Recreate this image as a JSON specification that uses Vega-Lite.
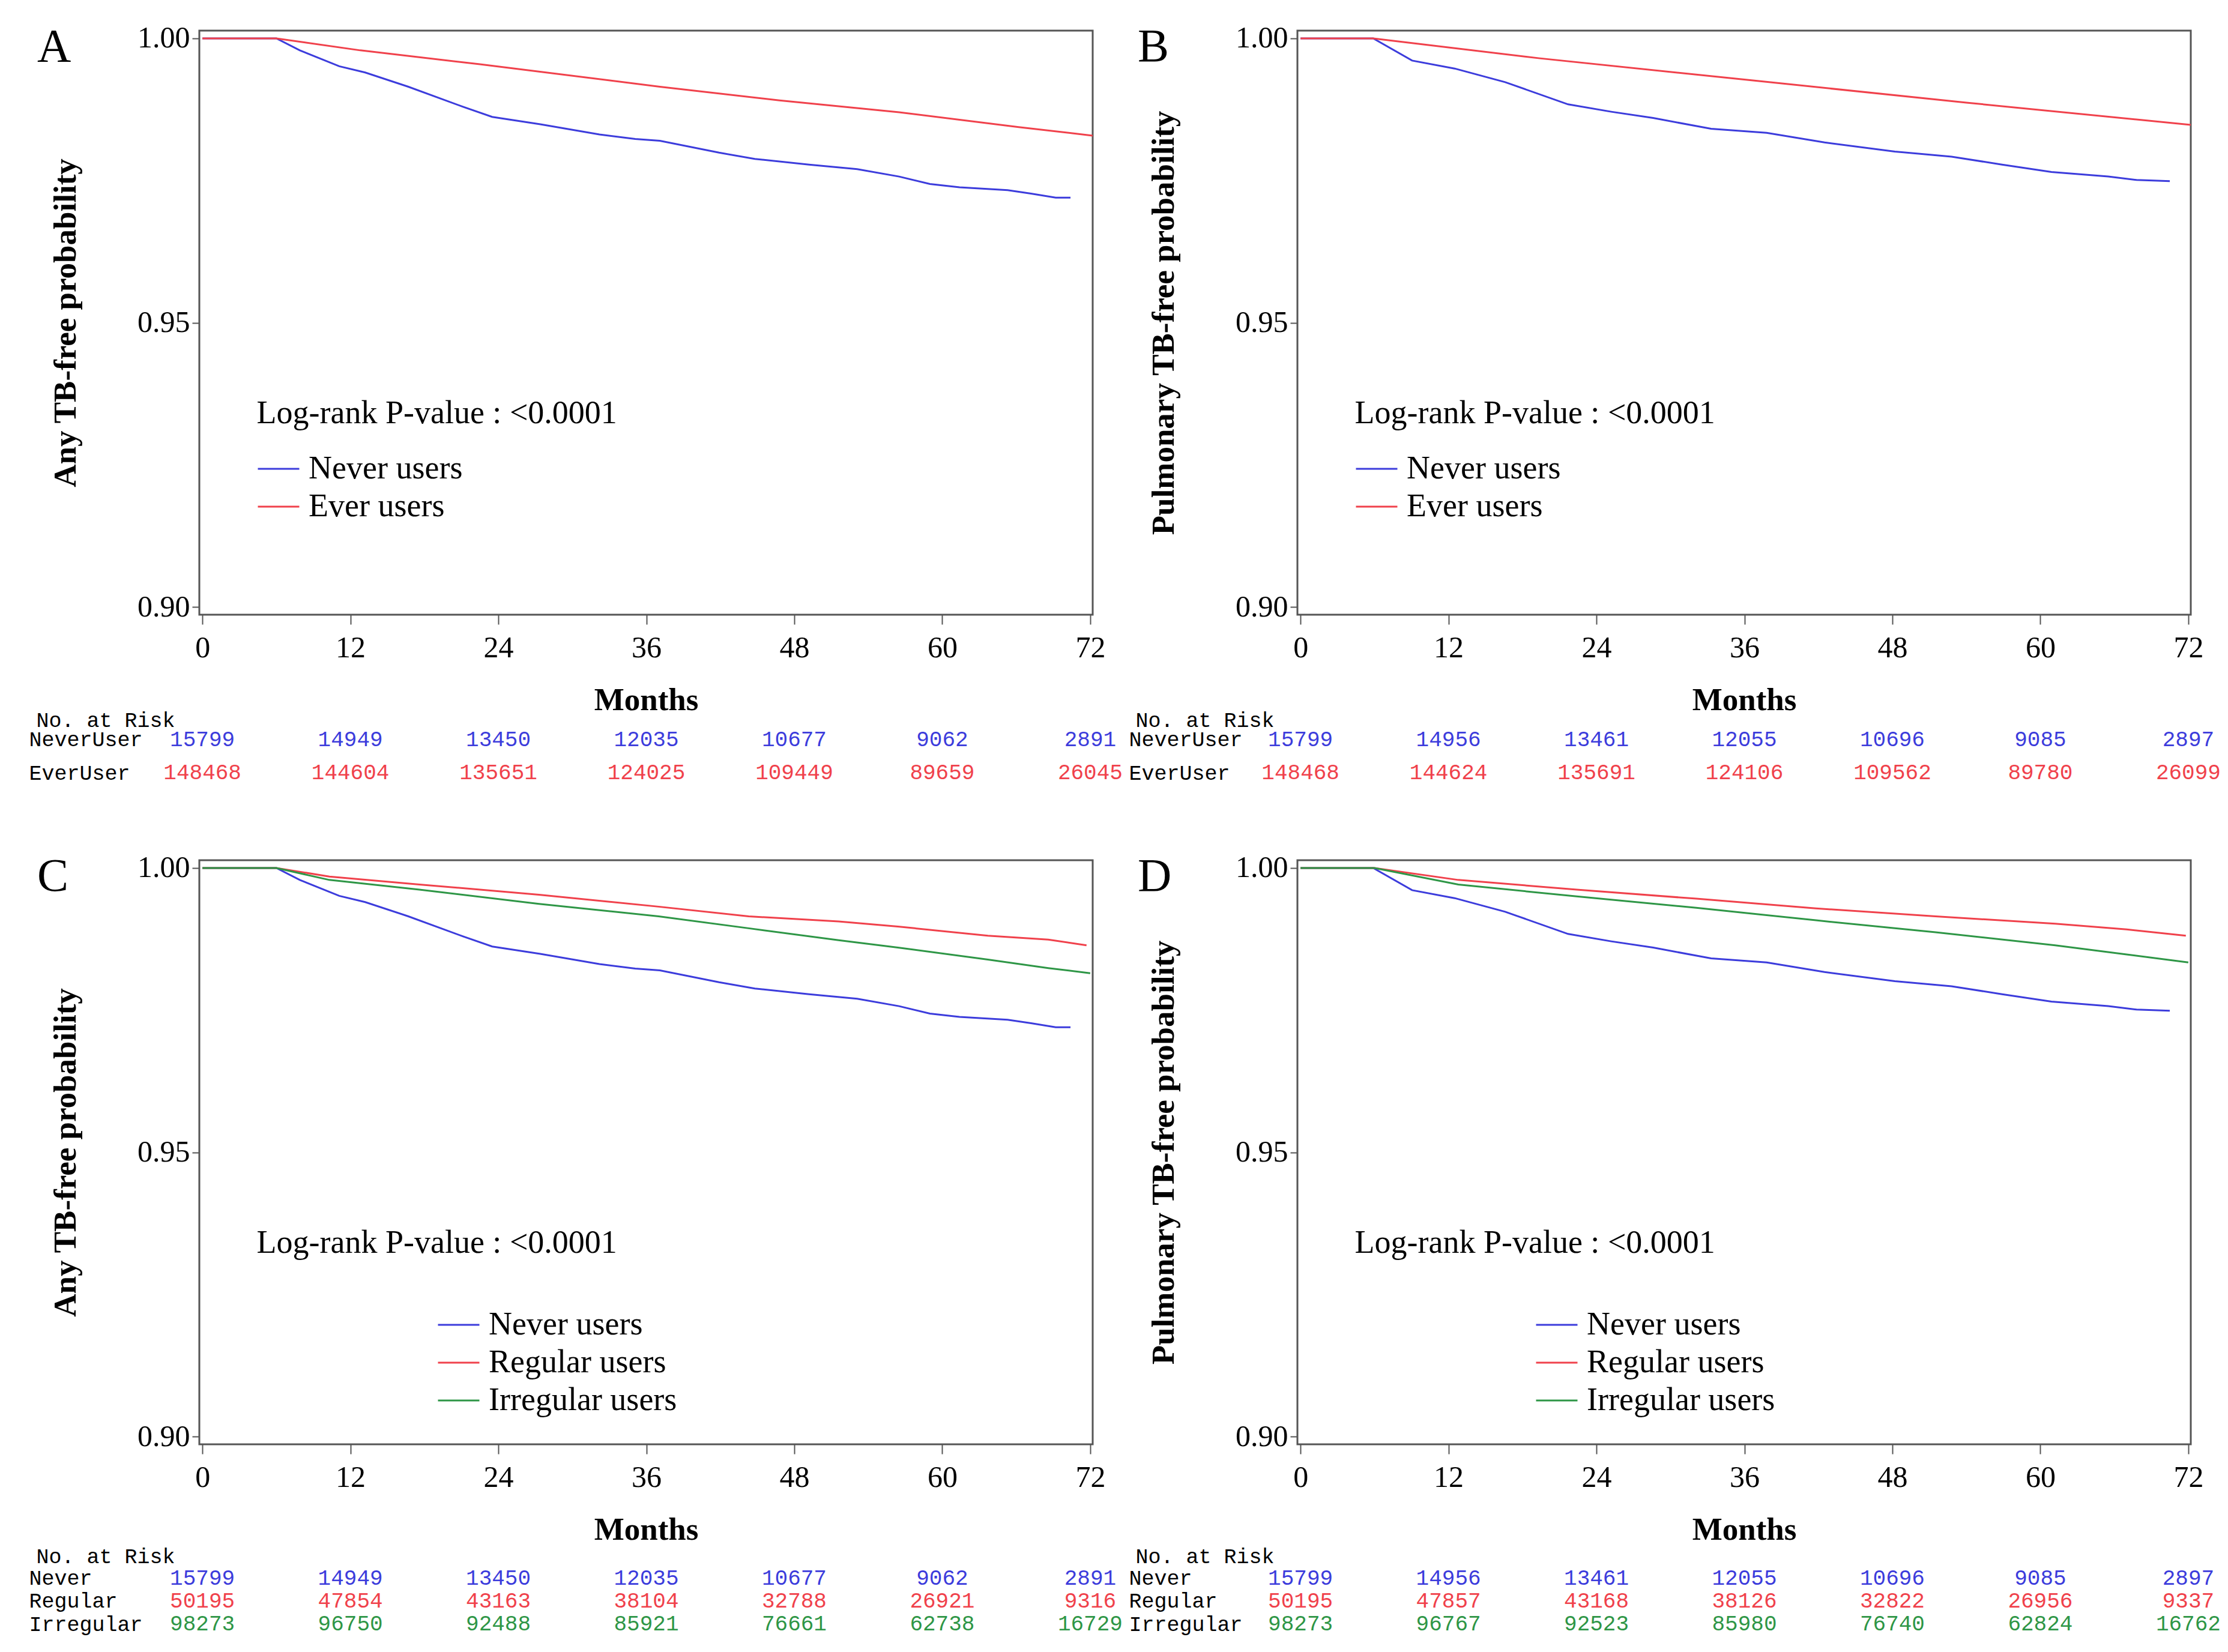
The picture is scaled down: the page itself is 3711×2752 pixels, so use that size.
{
  "$schema": "https://vega.github.io/schema/vega-lite/v6.json",
  "padding": {"left": 48, "top": 37, "right": 5, "bottom": 5},
  "background": "white",
  "datasets": {
    "km": [
      {"p":"A","g":"Never users","m":0,"s":1},{"p":"A","g":"Never users","m":6,"s":1},{"p":"A","g":"Never users","m":7.9,"s":0.9979},{"p":"A","g":"Never users","m":11.1,"s":0.9951},{"p":"A","g":"Never users","m":13.2,"s":0.994},{"p":"A","g":"Never users","m":16.7,"s":0.9915},{"p":"A","g":"Never users","m":21.1,"s":0.988},{"p":"A","g":"Never users","m":23.5,"s":0.9862},{"p":"A","g":"Never users","m":27.4,"s":0.9849},{"p":"A","g":"Never users","m":32.2,"s":0.9831},{"p":"A","g":"Never users","m":35.1,"s":0.9823},{"p":"A","g":"Never users","m":37.1,"s":0.982},{"p":"A","g":"Never users","m":41.9,"s":0.9799},{"p":"A","g":"Never users","m":44.8,"s":0.9788},{"p":"A","g":"Never users","m":49.2,"s":0.9778},{"p":"A","g":"Never users","m":53.1,"s":0.977},{"p":"A","g":"Never users","m":56.5,"s":0.9757},{"p":"A","g":"Never users","m":59,"s":0.9744},{"p":"A","g":"Never users","m":61.4,"s":0.9738},{"p":"A","g":"Never users","m":65.3,"s":0.9733},{"p":"A","g":"Never users","m":67.2,"s":0.9727},{"p":"A","g":"Never users","m":69.2,"s":0.972},{"p":"A","g":"Never users","m":70.4,"s":0.972},
      {"p":"A","g":"Ever users","m":0,"s":1},{"p":"A","g":"Ever users","m":6,"s":1},{"p":"A","g":"Ever users","m":12.8,"s":0.9979},{"p":"A","g":"Ever users","m":22.5,"s":0.99545},{"p":"A","g":"Ever users","m":37.1,"s":0.9915},{"p":"A","g":"Ever users","m":46.8,"s":0.9891},{"p":"A","g":"Ever users","m":56.5,"s":0.987},{"p":"A","g":"Ever users","m":66.2,"s":0.9844},{"p":"A","g":"Ever users","m":72.2,"s":0.9829},
      {"p":"B","g":"Never users","m":0,"s":1},{"p":"B","g":"Never users","m":5.9,"s":1},{"p":"B","g":"Never users","m":9.05,"s":0.9961},{"p":"B","g":"Never users","m":12.5,"s":0.9947},{"p":"B","g":"Never users","m":16.6,"s":0.9923},{"p":"B","g":"Never users","m":21.7,"s":0.9884},{"p":"B","g":"Never users","m":25.2,"s":0.9871},{"p":"B","g":"Never users","m":28.6,"s":0.986},{"p":"B","g":"Never users","m":33.3,"s":0.9841},{"p":"B","g":"Never users","m":37.8,"s":0.9834},{"p":"B","g":"Never users","m":42.5,"s":0.9817},{"p":"B","g":"Never users","m":48.2,"s":0.9801},{"p":"B","g":"Never users","m":52.8,"s":0.9792},{"p":"B","g":"Never users","m":56.9,"s":0.9778},{"p":"B","g":"Never users","m":60.9,"s":0.9765},{"p":"B","g":"Never users","m":65.5,"s":0.9757},{"p":"B","g":"Never users","m":67.8,"s":0.9751},{"p":"B","g":"Never users","m":70.5,"s":0.9749},
      {"p":"B","g":"Ever users","m":0,"s":1},{"p":"B","g":"Ever users","m":5.9,"s":1},{"p":"B","g":"Ever users","m":19.4,"s":0.9965},{"p":"B","g":"Ever users","m":36.7,"s":0.9926},{"p":"B","g":"Ever users","m":54,"s":0.9887},{"p":"B","g":"Ever users","m":72.2,"s":0.9848},
      {"p":"C","g":"Never users","m":0,"s":1},{"p":"C","g":"Never users","m":6,"s":1},{"p":"C","g":"Never users","m":7.9,"s":0.9979},{"p":"C","g":"Never users","m":11.1,"s":0.9951},{"p":"C","g":"Never users","m":13.2,"s":0.994},{"p":"C","g":"Never users","m":16.7,"s":0.9915},{"p":"C","g":"Never users","m":21.1,"s":0.988},{"p":"C","g":"Never users","m":23.5,"s":0.9862},{"p":"C","g":"Never users","m":27.4,"s":0.9849},{"p":"C","g":"Never users","m":32.2,"s":0.9831},{"p":"C","g":"Never users","m":35.1,"s":0.9823},{"p":"C","g":"Never users","m":37.1,"s":0.982},{"p":"C","g":"Never users","m":41.9,"s":0.9799},{"p":"C","g":"Never users","m":44.8,"s":0.9788},{"p":"C","g":"Never users","m":49.2,"s":0.9778},{"p":"C","g":"Never users","m":53.1,"s":0.977},{"p":"C","g":"Never users","m":56.5,"s":0.9757},{"p":"C","g":"Never users","m":59,"s":0.9744},{"p":"C","g":"Never users","m":61.4,"s":0.9738},{"p":"C","g":"Never users","m":65.3,"s":0.9733},{"p":"C","g":"Never users","m":67.2,"s":0.9727},{"p":"C","g":"Never users","m":69.2,"s":0.972},{"p":"C","g":"Never users","m":70.4,"s":0.972},
      {"p":"C","g":"Regular users","m":0,"s":1},{"p":"C","g":"Regular users","m":6,"s":1},{"p":"C","g":"Regular users","m":10.3,"s":0.9985},{"p":"C","g":"Regular users","m":17.6,"s":0.9971},{"p":"C","g":"Regular users","m":27.3,"s":0.9953},{"p":"C","g":"Regular users","m":37,"s":0.9932},{"p":"C","g":"Regular users","m":44.3,"s":0.9915},{"p":"C","g":"Regular users","m":51.6,"s":0.9906},{"p":"C","g":"Regular users","m":56.4,"s":0.9897},{"p":"C","g":"Regular users","m":63.7,"s":0.9881},{"p":"C","g":"Regular users","m":68.6,"s":0.9874},{"p":"C","g":"Regular users","m":71.7,"s":0.9864},
      {"p":"C","g":"Irregular users","m":0,"s":1},{"p":"C","g":"Irregular users","m":6,"s":1},{"p":"C","g":"Irregular users","m":10.3,"s":0.9979},{"p":"C","g":"Irregular users","m":17.6,"s":0.9962},{"p":"C","g":"Irregular users","m":27.3,"s":0.9937},{"p":"C","g":"Irregular users","m":37,"s":0.9915},{"p":"C","g":"Irregular users","m":44.3,"s":0.9894},{"p":"C","g":"Irregular users","m":51.6,"s":0.9873},{"p":"C","g":"Irregular users","m":56.4,"s":0.986},{"p":"C","g":"Irregular users","m":63.7,"s":0.9839},{"p":"C","g":"Irregular users","m":68.6,"s":0.9824},{"p":"C","g":"Irregular users","m":72,"s":0.9815},
      {"p":"D","g":"Never users","m":0,"s":1},{"p":"D","g":"Never users","m":5.9,"s":1},{"p":"D","g":"Never users","m":9.05,"s":0.9961},{"p":"D","g":"Never users","m":12.5,"s":0.9947},{"p":"D","g":"Never users","m":16.6,"s":0.9923},{"p":"D","g":"Never users","m":21.7,"s":0.9884},{"p":"D","g":"Never users","m":25.2,"s":0.9871},{"p":"D","g":"Never users","m":28.6,"s":0.986},{"p":"D","g":"Never users","m":33.3,"s":0.9841},{"p":"D","g":"Never users","m":37.8,"s":0.9834},{"p":"D","g":"Never users","m":42.5,"s":0.9817},{"p":"D","g":"Never users","m":48.2,"s":0.9801},{"p":"D","g":"Never users","m":52.8,"s":0.9792},{"p":"D","g":"Never users","m":56.9,"s":0.9778},{"p":"D","g":"Never users","m":60.9,"s":0.9765},{"p":"D","g":"Never users","m":65.5,"s":0.9757},{"p":"D","g":"Never users","m":67.8,"s":0.9751},{"p":"D","g":"Never users","m":70.5,"s":0.9749},
      {"p":"D","g":"Regular users","m":0,"s":1},{"p":"D","g":"Regular users","m":6,"s":1},{"p":"D","g":"Regular users","m":12.8,"s":0.9979},{"p":"D","g":"Regular users","m":22.4,"s":0.9962},{"p":"D","g":"Regular users","m":32.1,"s":0.9946},{"p":"D","g":"Regular users","m":41.8,"s":0.9929},{"p":"D","g":"Regular users","m":51.5,"s":0.9915},{"p":"D","g":"Regular users","m":61.2,"s":0.9902},{"p":"D","g":"Regular users","m":67,"s":0.9892},{"p":"D","g":"Regular users","m":71.8,"s":0.9881},
      {"p":"D","g":"Irregular users","m":0,"s":1},{"p":"D","g":"Irregular users","m":6,"s":1},{"p":"D","g":"Irregular users","m":12.8,"s":0.9971},{"p":"D","g":"Irregular users","m":22.4,"s":0.995},{"p":"D","g":"Irregular users","m":32.1,"s":0.993},{"p":"D","g":"Irregular users","m":41.8,"s":0.9908},{"p":"D","g":"Irregular users","m":51.5,"s":0.9887},{"p":"D","g":"Irregular users","m":61.2,"s":0.9864},{"p":"D","g":"Irregular users","m":67,"s":0.9848},{"p":"D","g":"Irregular users","m":72,"s":0.9834}
    ],
    "risk": [
      {"p":"A","g":"NeverUser","m":0,"n":15799},{"p":"A","g":"NeverUser","m":12,"n":14949},{"p":"A","g":"NeverUser","m":24,"n":13450},{"p":"A","g":"NeverUser","m":36,"n":12035},{"p":"A","g":"NeverUser","m":48,"n":10677},{"p":"A","g":"NeverUser","m":60,"n":9062},{"p":"A","g":"NeverUser","m":72,"n":2891},
      {"p":"A","g":"EverUser","m":0,"n":148468},{"p":"A","g":"EverUser","m":12,"n":144604},{"p":"A","g":"EverUser","m":24,"n":135651},{"p":"A","g":"EverUser","m":36,"n":124025},{"p":"A","g":"EverUser","m":48,"n":109449},{"p":"A","g":"EverUser","m":60,"n":89659},{"p":"A","g":"EverUser","m":72,"n":26045},
      {"p":"B","g":"NeverUser","m":0,"n":15799},{"p":"B","g":"NeverUser","m":12,"n":14956},{"p":"B","g":"NeverUser","m":24,"n":13461},{"p":"B","g":"NeverUser","m":36,"n":12055},{"p":"B","g":"NeverUser","m":48,"n":10696},{"p":"B","g":"NeverUser","m":60,"n":9085},{"p":"B","g":"NeverUser","m":72,"n":2897},
      {"p":"B","g":"EverUser","m":0,"n":148468},{"p":"B","g":"EverUser","m":12,"n":144624},{"p":"B","g":"EverUser","m":24,"n":135691},{"p":"B","g":"EverUser","m":36,"n":124106},{"p":"B","g":"EverUser","m":48,"n":109562},{"p":"B","g":"EverUser","m":60,"n":89780},{"p":"B","g":"EverUser","m":72,"n":26099},
      {"p":"C","g":"Never","m":0,"n":15799},{"p":"C","g":"Never","m":12,"n":14949},{"p":"C","g":"Never","m":24,"n":13450},{"p":"C","g":"Never","m":36,"n":12035},{"p":"C","g":"Never","m":48,"n":10677},{"p":"C","g":"Never","m":60,"n":9062},{"p":"C","g":"Never","m":72,"n":2891},
      {"p":"C","g":"Regular","m":0,"n":50195},{"p":"C","g":"Regular","m":12,"n":47854},{"p":"C","g":"Regular","m":24,"n":43163},{"p":"C","g":"Regular","m":36,"n":38104},{"p":"C","g":"Regular","m":48,"n":32788},{"p":"C","g":"Regular","m":60,"n":26921},{"p":"C","g":"Regular","m":72,"n":9316},
      {"p":"C","g":"Irregular","m":0,"n":98273},{"p":"C","g":"Irregular","m":12,"n":96750},{"p":"C","g":"Irregular","m":24,"n":92488},{"p":"C","g":"Irregular","m":36,"n":85921},{"p":"C","g":"Irregular","m":48,"n":76661},{"p":"C","g":"Irregular","m":60,"n":62738},{"p":"C","g":"Irregular","m":72,"n":16729},
      {"p":"D","g":"Never","m":0,"n":15799},{"p":"D","g":"Never","m":12,"n":14956},{"p":"D","g":"Never","m":24,"n":13461},{"p":"D","g":"Never","m":36,"n":12055},{"p":"D","g":"Never","m":48,"n":10696},{"p":"D","g":"Never","m":60,"n":9085},{"p":"D","g":"Never","m":72,"n":2897},
      {"p":"D","g":"Regular","m":0,"n":50195},{"p":"D","g":"Regular","m":12,"n":47857},{"p":"D","g":"Regular","m":24,"n":43168},{"p":"D","g":"Regular","m":36,"n":38126},{"p":"D","g":"Regular","m":48,"n":32822},{"p":"D","g":"Regular","m":60,"n":26956},{"p":"D","g":"Regular","m":72,"n":9337},
      {"p":"D","g":"Irregular","m":0,"n":98273},{"p":"D","g":"Irregular","m":12,"n":96767},{"p":"D","g":"Irregular","m":24,"n":92523},{"p":"D","g":"Irregular","m":36,"n":85980},{"p":"D","g":"Irregular","m":48,"n":76740},{"p":"D","g":"Irregular","m":60,"n":62824},{"p":"D","g":"Irregular","m":72,"n":16762}
    ]
  },
  "config": {
    "font": "Liberation Serif",
    "view": {"stroke": "#555555", "strokeWidth": 3},
    "axis": {"domain": false, "grid": false, "tickColor": "#555555", "tickWidth": 2, "labelFont": "Liberation Serif", "labelFontSize": 50, "labelColor": "black", "titleFont": "Liberation Serif", "titleFontSize": 53, "titleFontWeight": "bold", "titleColor": "black", "labelFlush": false, "labelOverlap": false, "labelLimit": 0},
    "axisX": {"tickSize": 16, "labelPadding": 14, "titlePadding": 36},
    "axisY": {"tickSize": 12, "labelPadding": 4, "titlePadding": 92},
    "legend": {"orient": "none", "direction": "vertical", "symbolType": "stroke", "symbolSize": 4761, "symbolStrokeWidth": 3, "labelFont": "Liberation Serif", "labelFontSize": 54, "labelColor": "black", "labelOffset": 14, "rowPadding": 0, "labelLimit": 0},
    "title": {"anchor": "start", "frame": "group", "offset": -79, "baseline": "alphabetic", "fontSize": 78, "font": "Liberation Serif", "fontWeight": "normal", "color": "black"}
  },
  "resolve": {"scale": {"color": "independent", "x": "independent", "y": "independent"}, "legend": {"color": "independent"}},
  "bounds": "flush",
  "columns": 2,
  "spacing": {"row": 146, "column": 341},
  "concat": [
    {
      "width": 1488, "height": 973,
      "title": {"text": "A", "dx": -270},
      "layer": [
        {
          "data": {"name": "km"},
          "transform": [{"filter": "datum.p === 'A'"}],
          "mark": {"type": "line", "strokeWidth": 3, "clip": true},
          "encoding": {
            "x": {"field": "m", "type": "quantitative", "scale": {"domain": [-0.25, 72.2], "nice": false, "zero": false}, "axis": {"values": [0, 12, 24, 36, 48, 60, 72], "title": "Months"}},
            "y": {"field": "s", "type": "quantitative", "scale": {"domain": [0.89863, 1.00137], "nice": false, "zero": false}, "axis": {"values": [0.9, 0.95, 1.0], "format": ".2f", "title": "Any TB-free probability"}},
            "color": {"field": "g", "type": "nominal", "scale": {"domain": ["Never users", "Ever users"], "range": ["#3c3cdc", "#f0414b"]}, "legend": {"title": null, "legendX": 96, "legendY": 694}}
          }
        },
        {
          "data": {"values": [{}]},
          "mark": {"type": "text", "align": "left", "baseline": "middle", "font": "Liberation Serif", "fontSize": 54, "color": "black"},
          "encoding": {"x": {"datum": 4.4}, "y": {"datum": 0.934}, "text": {"value": "Log-rank P-value : <0.0001"}}
        }
      ]
    },
    {
      "width": 1488, "height": 973,
      "title": {"text": "B", "dx": -266},
      "layer": [
        {
          "data": {"name": "km"},
          "transform": [{"filter": "datum.p === 'B'"}],
          "mark": {"type": "line", "strokeWidth": 3, "clip": true},
          "encoding": {
            "x": {"field": "m", "type": "quantitative", "scale": {"domain": [-0.25, 72.2], "nice": false, "zero": false}, "axis": {"values": [0, 12, 24, 36, 48, 60, 72], "title": "Months"}},
            "y": {"field": "s", "type": "quantitative", "scale": {"domain": [0.89863, 1.00137], "nice": false, "zero": false}, "axis": {"values": [0.9, 0.95, 1.0], "format": ".2f", "title": "Pulmonary TB-free probability"}},
            "color": {"field": "g", "type": "nominal", "scale": {"domain": ["Never users", "Ever users"], "range": ["#3c3cdc", "#f0414b"]}, "legend": {"title": null, "legendX": 96, "legendY": 694}}
          }
        },
        {
          "data": {"values": [{}]},
          "mark": {"type": "text", "align": "left", "baseline": "middle", "font": "Liberation Serif", "fontSize": 54, "color": "black"},
          "encoding": {"x": {"datum": 4.4}, "y": {"datum": 0.934}, "text": {"value": "Log-rank P-value : <0.0001"}}
        }
      ]
    },
    {
      "width": 1488, "height": 117,
      "view": {"stroke": null},
      "data": {"name": "risk"},
      "transform": [{"filter": "datum.p === 'A'"}],
      "mark": {"type": "text", "font": "Liberation Mono", "fontSize": 36, "align": "center", "baseline": "middle"},
      "encoding": {
        "x": {"field": "m", "type": "quantitative", "scale": {"domain": [-0.25, 72.2], "nice": false, "zero": false}, "axis": null},
        "y": {"field": "g", "type": "nominal", "scale": {"type": "point", "padding": 0.5636, "align": 1, "domain": ["NeverUser", "EverUser"]}, "axis": {"orient": "left", "domain": false, "ticks": false, "tickSize": 0, "labelAlign": "left", "labelPadding": 284, "labelFont": "Liberation Mono", "labelFontSize": 35, "labelColor": "black", "labelBaseline": "middle", "title": "No. at Risk", "titleAngle": 0, "titleAlign": "left", "titleBaseline": "middle", "titleX": -272, "titleY": 29, "titleFont": "Liberation Mono", "titleFontSize": 35, "titleFontWeight": "normal", "titleColor": "black"}},
        "text": {"field": "n", "type": "quantitative", "format": "d"},
        "color": {"field": "g", "type": "nominal", "scale": {"domain": ["NeverUser", "EverUser"], "range": ["#3c3cdc", "#f0414b"]}, "legend": null}
      }
    },
    {
      "width": 1488, "height": 117,
      "view": {"stroke": null},
      "data": {"name": "risk"},
      "transform": [{"filter": "datum.p === 'B'"}],
      "mark": {"type": "text", "font": "Liberation Mono", "fontSize": 36, "align": "center", "baseline": "middle"},
      "encoding": {
        "x": {"field": "m", "type": "quantitative", "scale": {"domain": [-0.25, 72.2], "nice": false, "zero": false}, "axis": null},
        "y": {"field": "g", "type": "nominal", "scale": {"type": "point", "padding": 0.5636, "align": 1, "domain": ["NeverUser", "EverUser"]}, "axis": {"orient": "left", "domain": false, "ticks": false, "tickSize": 0, "labelAlign": "left", "labelPadding": 281, "labelFont": "Liberation Mono", "labelFontSize": 35, "labelColor": "black", "labelBaseline": "middle", "title": "No. at Risk", "titleAngle": 0, "titleAlign": "left", "titleBaseline": "middle", "titleX": -270, "titleY": 29, "titleFont": "Liberation Mono", "titleFontSize": 35, "titleFontWeight": "normal", "titleColor": "black"}},
        "text": {"field": "n", "type": "quantitative", "format": "d"},
        "color": {"field": "g", "type": "nominal", "scale": {"domain": ["NeverUser", "EverUser"], "range": ["#3c3cdc", "#f0414b"]}, "legend": null}
      }
    },
    {
      "width": 1488, "height": 973,
      "title": {"text": "C", "dx": -270},
      "layer": [
        {
          "data": {"name": "km"},
          "transform": [{"filter": "datum.p === 'C'"}],
          "mark": {"type": "line", "strokeWidth": 3, "clip": true},
          "encoding": {
            "x": {"field": "m", "type": "quantitative", "scale": {"domain": [-0.25, 72.2], "nice": false, "zero": false}, "axis": {"values": [0, 12, 24, 36, 48, 60, 72], "title": "Months"}},
            "y": {"field": "s", "type": "quantitative", "scale": {"domain": [0.89863, 1.00137], "nice": false, "zero": false}, "axis": {"values": [0.9, 0.95, 1.0], "format": ".2f", "title": "Any TB-free probability"}},
            "color": {"field": "g", "type": "nominal", "scale": {"domain": ["Never users", "Regular users", "Irregular users"], "range": ["#3c3cdc", "#f0414b", "#2e9646"]}, "legend": {"title": null, "legendX": 396, "legendY": 738}}
          }
        },
        {
          "data": {"values": [{}]},
          "mark": {"type": "text", "align": "left", "baseline": "middle", "font": "Liberation Serif", "fontSize": 54, "color": "black"},
          "encoding": {"x": {"datum": 4.4}, "y": {"datum": 0.934}, "text": {"value": "Log-rank P-value : <0.0001"}}
        }
      ]
    },
    {
      "width": 1488, "height": 973,
      "title": {"text": "D", "dx": -266},
      "layer": [
        {
          "data": {"name": "km"},
          "transform": [{"filter": "datum.p === 'D'"}],
          "mark": {"type": "line", "strokeWidth": 3, "clip": true},
          "encoding": {
            "x": {"field": "m", "type": "quantitative", "scale": {"domain": [-0.25, 72.2], "nice": false, "zero": false}, "axis": {"values": [0, 12, 24, 36, 48, 60, 72], "title": "Months"}},
            "y": {"field": "s", "type": "quantitative", "scale": {"domain": [0.89863, 1.00137], "nice": false, "zero": false}, "axis": {"values": [0.9, 0.95, 1.0], "format": ".2f", "title": "Pulmonary TB-free probability"}},
            "color": {"field": "g", "type": "nominal", "scale": {"domain": ["Never users", "Regular users", "Irregular users"], "range": ["#3c3cdc", "#f0414b", "#2e9646"]}, "legend": {"title": null, "legendX": 396, "legendY": 738}}
          }
        },
        {
          "data": {"values": [{}]},
          "mark": {"type": "text", "align": "left", "baseline": "middle", "font": "Liberation Serif", "fontSize": 54, "color": "black"},
          "encoding": {"x": {"datum": 4.4}, "y": {"datum": 0.934}, "text": {"value": "Log-rank P-value : <0.0001"}}
        }
      ]
    },
    {
      "width": 1488, "height": 153,
      "view": {"stroke": null},
      "data": {"name": "risk"},
      "transform": [{"filter": "datum.p === 'C'"}],
      "mark": {"type": "text", "font": "Liberation Mono", "fontSize": 36, "align": "center", "baseline": "middle"},
      "encoding": {
        "x": {"field": "m", "type": "quantitative", "scale": {"domain": [-0.25, 72.2], "nice": false, "zero": false}, "axis": null},
        "y": {"field": "g", "type": "nominal", "scale": {"type": "point", "padding": 1.04, "align": 1, "domain": ["Never", "Regular", "Irregular"]}, "axis": {"orient": "left", "domain": false, "ticks": false, "tickSize": 0, "labelAlign": "left", "labelPadding": 284, "labelFont": "Liberation Mono", "labelFontSize": 35, "labelColor": "black", "labelBaseline": "middle", "title": "No. at Risk", "titleAngle": 0, "titleAlign": "left", "titleBaseline": "middle", "titleX": -272, "titleY": 40, "titleFont": "Liberation Mono", "titleFontSize": 35, "titleFontWeight": "normal", "titleColor": "black"}},
        "text": {"field": "n", "type": "quantitative", "format": "d"},
        "color": {"field": "g", "type": "nominal", "scale": {"domain": ["Never", "Regular", "Irregular"], "range": ["#3c3cdc", "#f0414b", "#2e9646"]}, "legend": null}
      }
    },
    {
      "width": 1488, "height": 153,
      "view": {"stroke": null},
      "data": {"name": "risk"},
      "transform": [{"filter": "datum.p === 'D'"}],
      "mark": {"type": "text", "font": "Liberation Mono", "fontSize": 36, "align": "center", "baseline": "middle"},
      "encoding": {
        "x": {"field": "m", "type": "quantitative", "scale": {"domain": [-0.25, 72.2], "nice": false, "zero": false}, "axis": null},
        "y": {"field": "g", "type": "nominal", "scale": {"type": "point", "padding": 1.04, "align": 1, "domain": ["Never", "Regular", "Irregular"]}, "axis": {"orient": "left", "domain": false, "ticks": false, "tickSize": 0, "labelAlign": "left", "labelPadding": 281, "labelFont": "Liberation Mono", "labelFontSize": 35, "labelColor": "black", "labelBaseline": "middle", "title": "No. at Risk", "titleAngle": 0, "titleAlign": "left", "titleBaseline": "middle", "titleX": -270, "titleY": 40, "titleFont": "Liberation Mono", "titleFontSize": 35, "titleFontWeight": "normal", "titleColor": "black"}},
        "text": {"field": "n", "type": "quantitative", "format": "d"},
        "color": {"field": "g", "type": "nominal", "scale": {"domain": ["Never", "Regular", "Irregular"], "range": ["#3c3cdc", "#f0414b", "#2e9646"]}, "legend": null}
      }
    }
  ]
}
